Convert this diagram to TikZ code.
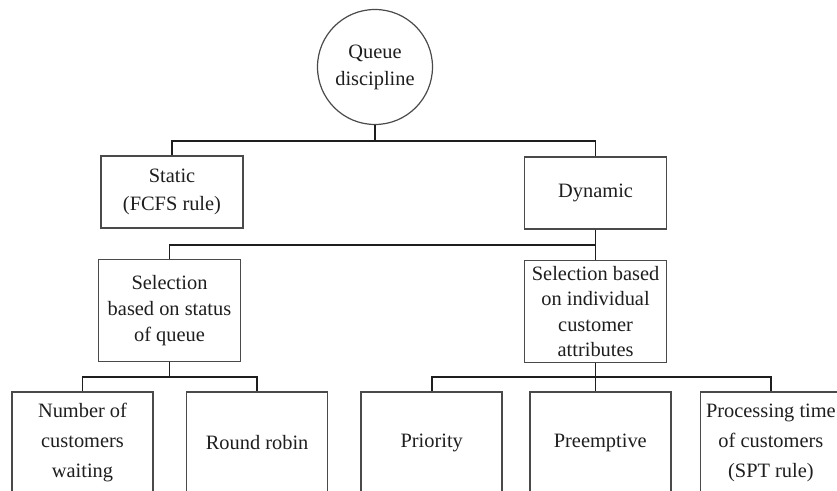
\documentclass[tikz,border=0pt]{standalone}
\usepackage{fontspec}
\setmainfont{Liberation Serif}
\usepackage{xcolor}
\usetikzlibrary{calc, positioning}
\definecolor{inkgray}{HTML}{1E1E1E}
\definecolor{framegray}{HTML}{4A4A4A}

\begin{document}
\begin{tikzpicture}
              [node distance=15pt,
               box/.style={draw=framegray, line width=0.8pt, rectangle, align=center, inner sep=0pt, minimum width=71pt, text=inkgray},
               topbox/.style={box, minimum height=36pt, font=\fontsize{10.2pt}{14pt}\selectfont},
               midbox/.style={box, minimum height=51pt, font=\fontsize{10.2pt}{12.8pt}\selectfont},
               leafbox/.style={box, minimum width=70.5pt, minimum height=51pt, font=\fontsize{10.2pt}{15pt}\selectfont},
               link/.style={draw=inkgray, line width=0.85pt}]
              \useasboundingbox (0,0) rectangle (418.5pt,-245.5pt);
              \clip (0,0) rectangle (418.5pt,-245.5pt);

              % nodes %
              \node[circle, draw=framegray, line width=0.6pt, minimum size=57.5pt, inner sep=0pt, align=center, text=inkgray, font=\fontsize{10.2pt}{13.5pt}\selectfont] (qd) at (187.5pt,-33.5pt) {Queue\\discipline};
              \node[topbox] (static) at (86pt,-96pt) {Static\\(FCFS rule)};
              \node[topbox, right=140pt of static, yshift=-0.5pt] (dyn) {Dynamic};
              \node[midbox, below=15pt of static, xshift=-1.25pt] (bystatus) {Selection\\based on status\\of queue};
              \node[midbox, below=15pt of dyn] (byattr) {Selection based\\on individual\\customer\\attributes};
              \node[leafbox] (waiting) at (41.25pt,-221.5pt) {Number of\\customers\\waiting};
              \node[leafbox, right=16pt of waiting] (robin) {Round robin};
              \node[leafbox, right=16pt of robin] (prio) {Priority};
              \node[leafbox, right=13pt of prio] (preempt) {Preemptive};
              \node[leafbox, right=14pt of preempt] (spt) {Processing time\\of customers\\(SPT rule)};

              % edges %
              \coordinate (bus1) at ($(static.north)+(0,7pt)$);
              \draw[link] (qd.south) -- (qd.south |- bus1);
              \draw[link] (static.north) |- (bus1) -| (dyn.north);

              \coordinate (bus2) at ($(dyn.south)!0.5!(byattr.north)$);
              \draw[link] (dyn.south) -- (byattr.north);
              \draw[link] (bystatus.north) |- (bus2);

              \coordinate (bus3) at ($(bystatus.south)!0.5!(bystatus.south |- waiting.north)$);
              \draw[link] (bystatus.south) -- (bus3);
              \draw[link] (waiting.north) |- (bus3) -| (robin.north);

              \coordinate (bus4) at ($(byattr.south)!0.5!(byattr.south |- prio.north)$);
              \draw[link] (byattr.south) -- (byattr.south |- preempt.north);
              \draw[link] (prio.north) |- (bus4) -| (spt.north);
            \end{tikzpicture}
\end{document}
